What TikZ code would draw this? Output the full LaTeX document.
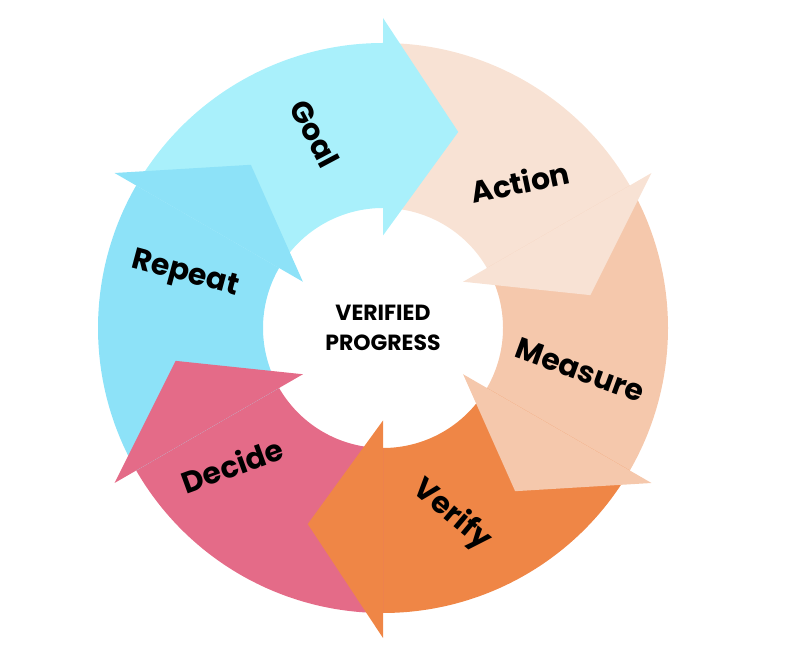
\documentclass[tikz,border=0pt]{standalone}
\usepackage{fontspec}
\newfontfamily\cyclefont{Poppins}
\usetikzlibrary{calc}
\definecolor{goalc}{HTML}{A9F0FB}
\definecolor{actionc}{HTML}{F8E2D4}
\definecolor{measurec}{HTML}{F5C8AC}
\definecolor{verifyc}{HTML}{EF8646}
\definecolor{decidec}{HTML}{E46B88}
\definecolor{repeatc}{HTML}{8DE2F8}
\newcommand{\Rout}{5.7}
\newcommand{\Rin}{2.4}
\tikzset{
  steplabel/.style={font=\cyclefont\bfseries\fontsize{17}{17}\selectfont, text=black},
  hublabel/.style={font=\cyclefont\bfseries\fontsize{12.5}{17}\selectfont, align=center}
}
\begin{document}
\begin{tikzpicture}
    \useasboundingbox (0,0) rectangle (16,13.08);
    \coordinate (hub) at (7.66,6.52);
    % ring pieces
    \foreach \s/\col in {150/goalc,90/actionc,30/measurec,-30/verifyc,-90/decidec,-150/repeatc}
    {\pgfmathsetmacro{\e}{\s-60}
      \fill[\col] ($(hub)+(\s:\Rout)$) arc[start angle=\s, end angle=\e, radius=\Rout cm]
        -- ($(hub)+(\e:\Rin)$) arc[start angle=\e, end angle=\s, radius=\Rin cm] -- cycle;
    }
    % heads on top
    \foreach \s/\col in {150/goalc,90/actionc,30/measurec,-30/verifyc,-90/decidec,-150/repeatc}
    {\pgfmathsetmacro{\e}{\s-60}
      \pgfmathsetmacro{\t}{\e-21}
      \fill[\col] ($(hub)+(\e:6.2)$) -- ($(hub)+(\t:4.2)$) -- ($(hub)+(\e:1.85)$) -- cycle;
    }
    \node[hublabel] (hubtext) at (hub) {VERIFIED\\PROGRESS};
    \node[steplabel, rotate=-62] (goal) at (6.3,10.4) {Goal};
    \node[steplabel, rotate=12] (action) at (10.4,9.44) {Action};
    \node[steplabel, rotate=-20] (measure) at (11.6,5.68) {Measure};
    \node[steplabel, rotate=-40] (verify) at (9.04,2.78) {Verify};
    \node[steplabel, rotate=20] (decide) at (4.64,3.78) {Decide};
    \node[steplabel, rotate=-15] (repeat) at (3.7,7.58) {Repeat};
\end{tikzpicture}
\end{document}
